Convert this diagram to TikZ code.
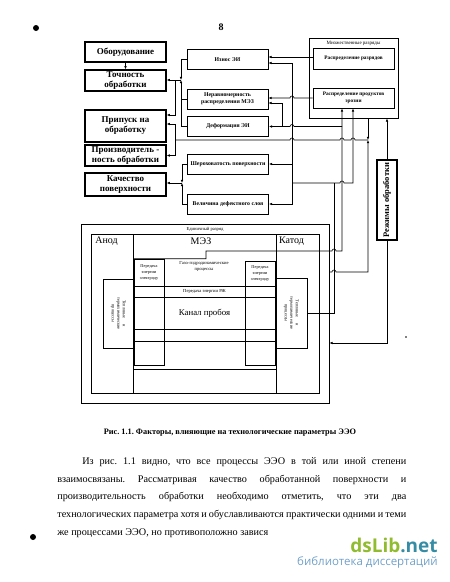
\documentclass[tikz,border=0pt]{standalone}
\usepackage{fontspec}
\setmainfont{Liberation Serif}
\newfontfamily\wmfont{Open Sans}
\usepackage{graphicx}
\usetikzlibrary{arrows.meta}
\frenchspacing

\definecolor{wmgreen}{RGB}{145,188,48}
\definecolor{wmteal}{RGB}{52,140,165}
\definecolor{wmblue}{RGB}{112,160,200}

% line hops over a crossing, going left / going right
\tikzset{
  hopl/.style={insert path={-- ([xshift=2pt]#1) arc[start angle=0,end angle=180,radius=2pt]}},
  hopr/.style={insert path={-- ([xshift=-2pt]#1) arc[start angle=180,end angle=0,radius=2pt]}}
}

\begin{document}
\begin{tikzpicture}[x=1pt, y=-1pt, line width=0.6pt, >={Latex[length=3.2pt,width=2.6pt]},
  param/.style={draw, line width=1.3pt, minimum width=81pt, inner sep=1pt, align=center, font=\bfseries\fontsize{9}{10}\selectfont},
  factor/.style={draw, line width=0.8pt, minimum width=81pt, minimum height=20pt, inner sep=1pt, align=center, font=\bfseries\fontsize{5.8}{7}\selectfont},
  frame/.style={draw, line width=0.8pt, inner sep=0pt},
  cell/.style={draw, line width=0.6pt, inner sep=0pt, align=center},
  smalltext/.style={inner sep=0pt, align=center, font=\fontsize{4.3}{6}\selectfont},
  heading/.style={inner sep=0pt, font=\fontsize{10}{12}\selectfont}]
\useasboundingbox (0,0) rectangle (450,582);

\node (page_num) [font=\bfseries\fontsize{10}{12}\selectfont] at (221,27) {8};

% parameters
\node (par_equip) [param, minimum height=20pt] at (125.5,52) {Оборудование};
\node (par_accur) [param, minimum height=21pt] at (125.5,80.5) {Точность\\обработки};
\node (par_allow) [param, minimum height=32pt] at (125.5,126) {Припуск на\\обработку};
\node (par_prod) [param, minimum height=21pt] at (125.5,155.5) {Производитель -\\ность обработки};
\node (par_qual) [param, minimum height=23pt] at (125.5,184.5) {Качество\\поверхности};

% factors
\node (fact_wear) [factor] at (227.5,59.5) {Износ ЭИ};
\node (fact_uneven) [factor] at (227.5,99) {Неравномерность\\распределения МЭЗ};
\node (fact_deform) [factor] at (228,126.5) {Деформация ЭИ};
\node (fact_rough) [factor] at (228,164) {Шероховатость поверхности};
\node (fact_defect) [factor] at (228,204) {Величина дефектного слоя};

% multiple discharges
\node (multi) [frame, minimum width=89pt, minimum height=80pt] at (353.5,78) {};
\node (multi_title) [smalltext, anchor=north, font=\fontsize{5}{6}\selectfont] at ([yshift=-3pt]multi.north) {Множественные разряды};
\node (distr_disch) [factor, minimum height=21pt, font=\bfseries\fontsize{5.3}{6.5}\selectfont] at (353.5,58.5) {Распределение разрядов};
\node (distr_erosion) [factor, font=\bfseries\fontsize{5.3}{6.5}\selectfont] at (353.5,98) {Распределение продуктов\\эрозии};
\node (modes) [param, minimum width=20pt, minimum height=80pt, inner sep=0pt, font=\bfseries\fontsize{8.5}{10}\selectfont] at (387,200) {\rotatebox{90}{Режимы обработки}};

% single discharge
\node (single_outer) [frame, minimum width=248pt, minimum height=179pt] at (205,313.5) {};
\node (single_title) [smalltext, font=\fontsize{4.6}{5}\selectfont] at (205,229) {Единичный разряд};
\node (single_inner) [frame, minimum width=228pt, minimum height=159pt] at (205,313.5) {};
\node (anode) [cell, minimum width=42pt, minimum height=159pt] at (112,313.5) {};
\node (cathode) [cell, minimum width=43pt, minimum height=159pt] at (297.5,313.5) {};
\node (anode_label) [heading, anchor=west] at (95,241) {Анод};
\node (mez_label) [heading] at (201,241) {МЭЗ};
\node (cathode_label) [heading] at (291.5,241) {Катод};

\node (rzh_band) [cell, minimum width=143pt, minimum height=11pt, font=\fontsize{4.6}{5}\selectfont] at (204.5,291.5) {Передача энергии РЖ};
\node (channel) [cell, minimum width=143pt, minimum height=32pt, font=\fontsize{8.8}{10}\selectfont] at (204.5,313) {Канал пробоя};
\node (low_band) [cell, minimum width=143pt, minimum height=28pt] at (204.5,355) {};

\node (electrode_a) [cell, minimum width=30pt, minimum height=106pt] at (149,312) {};
\node (transfer_a) [cell, smalltext, minimum width=30pt, minimum height=27pt] at (149,272.5) {Передача\\энергии\\электроду};
\node (electrode_c) [cell, minimum width=30pt, minimum height=104pt] at (260,313) {};
\node (transfer_c) [cell, smalltext, minimum width=30pt, minimum height=25pt] at (260,273.5) {Передача\\энергии\\электроду};
\node (gas_dyn) [smalltext, font=\fontsize{4.6}{6}\selectfont] at (204,266.5) {Газо-гидродинамические\\процессы};

\node (heat_a) [cell, minimum width=31pt, minimum height=69pt, font=\fontsize{4.3}{5.5}\selectfont] at (118.5,313.5)
  {\rotatebox{-90}{\begin{tabular}{@{}c@{}}Тепловые\hspace{6pt}и\\термохимические\\процессы\end{tabular}}};
\node (heat_c) [cell, minimum width=31pt, minimum height=70pt, font=\fontsize{4.3}{5.5}\selectfont] at (291.5,313)
  {\rotatebox{-90}{\begin{tabular}{@{}c@{}}Тепловые\hspace{6pt}и\\термохимические\\процессы\end{tabular}}};

% junctions
\coordinate (junc_wear) at (181,80);
\coordinate (split_wear) at (175,80);
\coordinate (junc_surf) at (182,183);
\coordinate (junc_modes) at (368,140);
\coordinate (split_modes) at (175,140);
\coordinate (feed_junc) at (292,183);
\coordinate (heat_junc) at (334,183);
\coordinate (mez_step) at (206,251);
\coordinate (deform_junc) at (342,126.5);

\draw[->] (par_equip) -- (par_accur);

\draw[->] (fact_wear.west) -| (junc_wear);
\draw (fact_uneven.west) -- (fact_uneven.west -| junc_wear);
\draw[->] (fact_deform.west) -| (junc_wear);
\draw[->] (junc_wear) -- (junc_wear -| par_accur.east);
\draw[->] (split_wear) |- ([yshift=11pt]par_allow.east);

\draw[->] (fact_rough.west) -| (junc_surf);
\draw[->] (fact_defect.west) -| (junc_surf);
\draw[->] (junc_surf) -- (junc_surf -| par_qual.east);

\draw[->] (multi.south -| junc_modes) -- (junc_modes);
\draw[->] ([yshift=41.5pt]single_outer.east) [hopr={334,272}] -| (junc_modes);
\draw (junc_modes) [hopl={353,140}] [hopl={342,140}] [hopl={292,140}] -- (split_modes);
\draw[->] (split_modes) |- ([yshift=2pt]par_allow.east);
\draw[->] (split_modes) |- (par_prod.east);

\draw[->] ([yshift=1.5pt]distr_disch.west) -- ([yshift=1.5pt]distr_disch.west -| fact_wear.east);
\draw[->] (distr_erosion.west) [hopl={292,98}] -- (distr_erosion.west -| fact_uneven.east);

\draw (heat_c.east) -| (heat_junc);
\draw[->] (feed_junc) [hopr={342,183}] -| (distr_erosion.south -| 353,0);
\draw[->] (feed_junc) |- ([yshift=-3.5pt]fact_wear.east);
\draw[->] (feed_junc) |- (fact_defect.east);
\draw[->] (feed_junc |- fact_rough.east) -- (fact_rough.east);

\draw[->] (anode.east |- transfer_a.north) -- (mez_step |- transfer_a.north) -- (mez_step) [hopr={334,251}] -| (distr_erosion.south -| 342,0);
\draw[->] (deform_junc) [hopl={292,126.5}] -- (fact_deform.east);
\draw[->] (282,126.5) |- ([yshift=-4pt]fact_uneven.east);

\draw[->] (modes.north) -- (modes.north |- multi.south);
\draw[->] (modes.south) |- ([yshift=-29.5pt]single_outer.east);

% caption and text
\node (caption) [font=\bfseries\fontsize{8.3}{10}\selectfont] at (230,433) {Рис. 1.1. Факторы, влияющие на технологические параметры ЭЭО};
\node (body) [anchor=north west, inner sep=0pt, text width=349pt, align=justify, font=\fontsize{10.2}{17.75}\selectfont] at (57,457)
  {\hspace*{25pt}Из рис. 1.1 видно, что все процессы ЭЭО в той или иной степени\linebreak
   взаимосвязаны. Рассматривая качество обработанной поверхности и\linebreak
   производительность обработки необходимо отметить, что эти два\linebreak
   технологических параметра хотя и обуславливаются практически одними и теми\linebreak
   же процессами ЭЭО, но противоположно завися};

\node (wm_logo) [anchor=east, inner sep=0pt, font=\wmfont\bfseries\fontsize{19}{20}\selectfont] at (438,545) {\textcolor{wmgreen}{dsLib}\textcolor{wmteal}{.net}};
\node (wm_text) [anchor=east, inner sep=0pt, text=wmblue, font=\wmfont\fontsize{11.5}{12}\selectfont] at (438,562) {библиотека диссертаций};

\fill (36,28) circle[radius=3pt];
\fill (33,537) circle[radius=3pt];
\fill (406,337) circle[radius=0.8pt];
\end{tikzpicture}
\end{document}
